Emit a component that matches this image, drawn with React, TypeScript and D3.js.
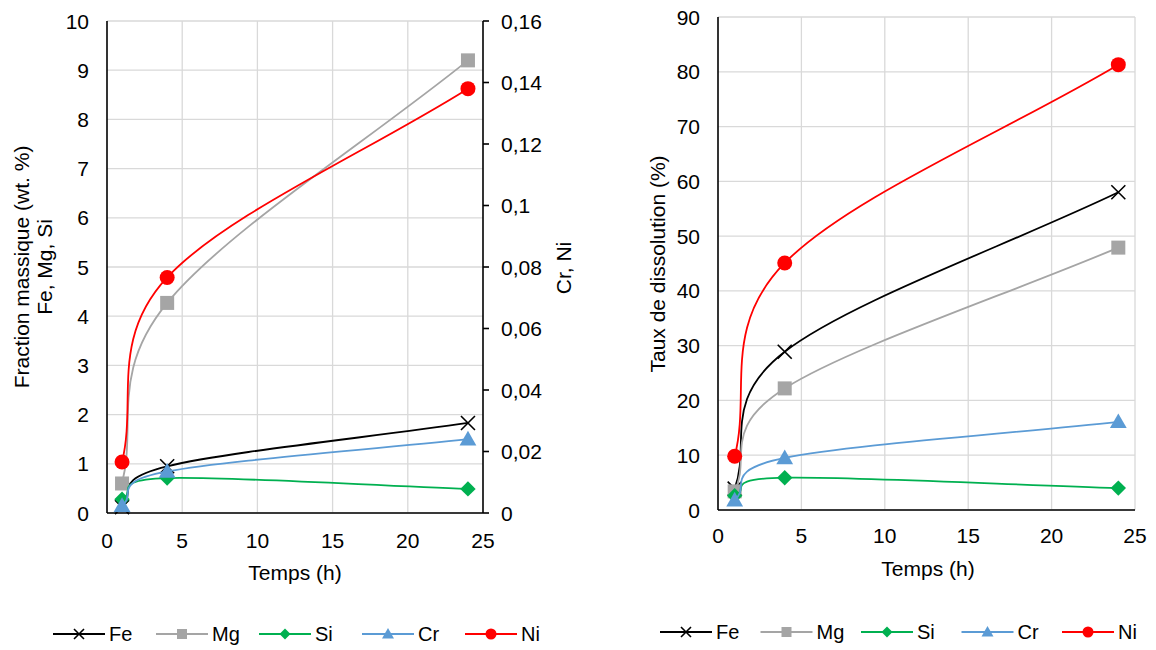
import React from "react";
import * as d3 from "d3";

const hours = [1, 4, 24];
const xTicks = [0, 5, 10, 15, 20, 25];

// Left chart: mass fraction (wt. %)
const feWt = [0.12, 0.95, 1.83];
const mgWt = [0.6, 4.27, 9.2];
const siWt = [0.28, 0.71, 0.49];
const crWt = [0.0024, 0.0135, 0.024];   // right axis
const niWt = [0.0166, 0.0766, 0.138];   // right axis
const leftTicks = [0, 1, 2, 3, 4, 5, 6, 7, 8, 9, 10];
const rightTicks = [0, 0.02, 0.04, 0.06, 0.08, 0.1, 0.12, 0.14, 0.16];

// Right chart: dissolution rate (%)
const feDiss = [3.9, 28.9, 58.0];
const mgDiss = [3.4, 22.2, 47.9];
const siDiss = [2.6, 5.9, 4.0];
const crDiss = [1.8, 9.5, 16.1];
const niDiss = [9.8, 45.1, 81.3];
const dissTicks = [0, 10, 20, 30, 40, 50, 60, 70, 80, 90];

const seriesNames = ["Fe", "Mg", "Si", "Cr", "Ni"];
const seriesColors = ["#000000", "#A5A5A5", "#00B050", "#5B9BD5", "#FF0000"];
const seriesMarkers = ["x", "square", "diamond", "triangle", "circle"];

const FONT = "'Liberation Sans', Arial, sans-serif";
const GRID = "#D9D9D9";
const FS = 21;

// Excel-like smoothed line through pixel points (cubic Bezier segments)
function smoothPath(pts: [number, number][]): string {
  const p = d3.path();
  const n = pts.length;
  if (!n) return "";
  const tan = pts.map((_, i) => {
    if (i === 0) return [(pts[1][0] - pts[0][0]) / 3, (pts[1][1] - pts[0][1]) / 3];
    if (i === n - 1) return [(pts[n - 1][0] - pts[n - 2][0]) / 3, (pts[n - 1][1] - pts[n - 2][1]) / 3];
    return [(pts[i + 1][0] - pts[i - 1][0]) / 6, (pts[i + 1][1] - pts[i - 1][1]) / 6];
  });
  p.moveTo(pts[0][0], pts[0][1]);
  for (let i = 0; i < n - 1; i++) {
    p.bezierCurveTo(
      pts[i][0] + tan[i][0], pts[i][1] + tan[i][1],
      pts[i + 1][0] - tan[i + 1][0], pts[i + 1][1] - tan[i + 1][1],
      pts[i + 1][0], pts[i + 1][1]
    );
  }
  return p.toString();
}

function Marker({ type, x, y, color, s }: { type: string; x: number; y: number; color: string; s: number }) {
  if (type === "x") {
    const h = s * 0.5;
    return (
      <path d={`M${x - h},${y - h}L${x + h},${y + h}M${x - h},${y + h}L${x + h},${y - h}`} stroke={color} strokeWidth={1.6} fill="none" />
    );
  }
  if (type === "square") {
    return <rect x={x - s / 2} y={y - s / 2} width={s} height={s} fill={color} />;
  }
  if (type === "diamond") {
    const h = s * 0.55;
    return <path d={`M${x},${y - h}L${x + h},${y}L${x},${y + h}L${x - h},${y}Z`} fill={color} />;
  }
  if (type === "triangle") {
    const h = s * 0.6;
    return <path d={`M${x},${y - h}L${x + h},${y + h * 0.75}L${x - h},${y + h * 0.75}Z`} fill={color} />;
  }
  return <circle cx={x} cy={y} r={s / 2 + 0.5} fill={color} />;
}

type Series = { values: number[]; axis: "left" | "right" };

function Legend({ x0, y, step }: { x0: number; y: number; step: number }) {
  return (
    <g>
      {seriesNames.map((n, i) => {
        const lx = x0 + i * step;
        return (
          <g key={n}>
            <line x1={lx} x2={lx + 52} y1={y} y2={y} stroke={seriesColors[i]} strokeWidth={2} />
            <Marker type={seriesMarkers[i]} x={lx + 26} y={y} color={seriesColors[i]} s={10} />
            <text x={lx + 56} y={y + 7} fontSize={20} fontFamily={FONT} fill="#000">{n}</text>
          </g>
        );
      })}
    </g>
  );
}

function Chart(props: {
  left: number; right: number; top: number; bottom: number;
  yMax: number; yTicks: number[]; y2Max?: number; y2Ticks?: number[];
  series: Series[]; gridRight: boolean;
  yLabelEnd: number; xLabelY: number;
}) {
  const { left, right, top, bottom, yMax, yTicks, y2Max, y2Ticks, series, gridRight, yLabelEnd, xLabelY } = props;
  const x = d3.scaleLinear().domain([0, 25]).range([left, right]);
  const y = d3.scaleLinear().domain([0, yMax]).range([bottom, top]);
  const y2 = d3.scaleLinear().domain([0, y2Max || 1]).range([bottom, top]);
  const fmt = (v: number) => String(+v.toFixed(2)).replace(".", ",");
  return (
    <g>
      {yTicks.map((t) => (
        <line key={"h" + t} x1={left} x2={right} y1={y(t)} y2={y(t)} stroke={GRID} strokeWidth={1.3} />
      ))}
      {xTicks.filter((t) => t > 0 && (gridRight || t < 25)).map((t) => (
        <line key={"v" + t} x1={x(t)} x2={x(t)} y1={top} y2={bottom} stroke={GRID} strokeWidth={1.3} />
      ))}
      <line x1={left} x2={left} y1={top} y2={bottom} stroke="#000" strokeWidth={1.6} />
      <line x1={left} x2={right} y1={bottom} y2={bottom} stroke="#000" strokeWidth={1.6} />
      {y2Ticks && (
        <g>
          <line x1={right} x2={right} y1={top} y2={bottom} stroke="#000" strokeWidth={1.6} />
          {y2Ticks.map((t) => (
            <g key={"r" + t}>
              <line x1={right} x2={right + 6} y1={y2(t)} y2={y2(t)} stroke="#000" strokeWidth={1.6} />
              <text x={right + 18} y={y2(t) + 7.5} fontSize={FS} fontFamily={FONT} fill="#000">{fmt(t)}</text>
            </g>
          ))}
        </g>
      )}
      {yTicks.map((t) => (
        <text key={"yl" + t} x={yLabelEnd} y={y(t) + 7.5} textAnchor="end" fontSize={FS} fontFamily={FONT} fill="#000">{t}</text>
      ))}
      {xTicks.map((t) => (
        <text key={"xl" + t} x={x(t)} y={xLabelY + 7.5} textAnchor="middle" fontSize={FS} fontFamily={FONT} fill="#000">{t}</text>
      ))}
      {series.map((s, i) => {
        const sc = s.axis === "left" ? y : y2;
        const pts: [number, number][] = hours.map((h, k) => [x(h), sc(s.values[k])]);
        return (
          <g key={"s" + i}>
            <path d={smoothPath(pts)} fill="none" stroke={seriesColors[i]} strokeWidth={1.8} />
            {pts.map((p, k) => (
              <Marker key={k} type={seriesMarkers[i]} x={p[0]} y={p[1]} color={seriesColors[i]} s={14} />
            ))}
          </g>
        );
      })}
    </g>
  );
}

export default function App() {
  return (
    <svg width={1156} height={650} style={{ position: "absolute", left: 0, top: 0, background: "#fff" }}>
      <rect width={1156} height={650} fill="#fff" />
      <Chart
        left={107} right={483} top={21} bottom={513}
        yMax={10} yTicks={leftTicks} y2Max={0.16} y2Ticks={rightTicks}
        series={[
          { values: feWt, axis: "left" },
          { values: mgWt, axis: "left" },
          { values: siWt, axis: "left" },
          { values: crWt, axis: "right" },
          { values: niWt, axis: "right" },
        ]}
        gridRight={false} yLabelEnd={89} xLabelY={540}
      />
      <text transform="translate(29,267) rotate(-90)" textAnchor="middle" fontSize={FS} fontFamily={FONT}>Fraction massique (wt. %)</text>
      <text transform="translate(52,267) rotate(-90)" textAnchor="middle" fontSize={FS} fontFamily={FONT}>Fe, Mg, Si</text>
      <text transform="translate(571,268) rotate(-90)" textAnchor="middle" fontSize={FS} fontFamily={FONT}>Cr, Ni</text>
      <text x={295} y={580} textAnchor="middle" fontSize={FS} fontFamily={FONT}>Temps (h)</text>

      <Chart
        left={718} right={1135} top={17} bottom={510}
        yMax={90} yTicks={dissTicks}
        series={[
          { values: feDiss, axis: "left" },
          { values: mgDiss, axis: "left" },
          { values: siDiss, axis: "left" },
          { values: crDiss, axis: "left" },
          { values: niDiss, axis: "left" },
        ]}
        gridRight={true} yLabelEnd={700} xLabelY={535}
      />
      <text transform="translate(665,264) rotate(-90)" textAnchor="middle" fontSize={FS} fontFamily={FONT}>Taux de dissolution (%)</text>
      <text x={928} y={576} textAnchor="middle" fontSize={FS} fontFamily={FONT}>Temps (h)</text>

      <Legend x0={53} y={634} step={103} />
      <Legend x0={660} y={632} step={100.5} />
    </svg>
  );
}
